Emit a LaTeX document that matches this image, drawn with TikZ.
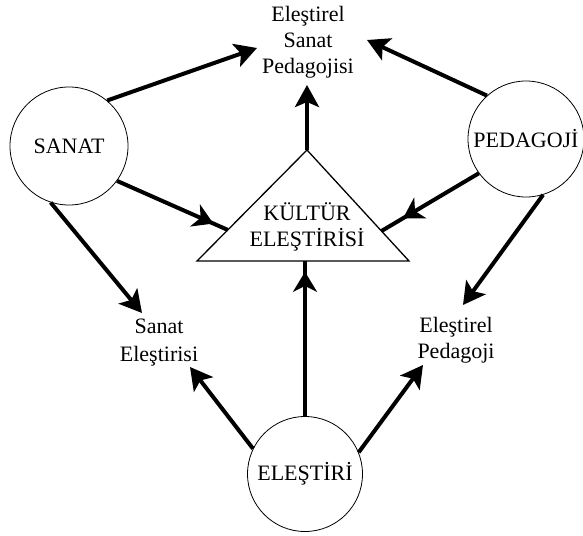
\documentclass[tikz,border=0pt]{standalone}
\usepackage{fontspec}
\setmainfont{Liberation Serif}
\usetikzlibrary{arrows.meta,calc,decorations.markings}

\tikzset{
  topic/.style={draw,circle,line width=.8pt,minimum size=#1,inner sep=0pt,font=\fontsize{22}{26}\selectfont},
  field/.style={align=center,inner sep=0pt,font=\fontsize{22}{26}\selectfont},
  link/.style={line width=4pt,-{Stealth[length=22pt,width=24pt,inset=5pt]}},
  midlink/.style={line width=4pt,postaction={decorate},
    decoration={markings,mark=at position #1 with {\arrow{Stealth[length=20pt,width=24pt,inset=6pt]}}}}
}

\begin{document}
\begin{tikzpicture}[x=1pt,y=-1pt]
\useasboundingbox (0,0) rectangle (583,535);
% the three fields
\node[topic=118] (sanat) at (69,146) {SANAT};
\node[topic=116] (pedagoji) at (526,139) {PEDAGOJİ};
\node[topic=115] (elestiri) at (305,474) {ELEŞTİRİ};
% triangle in the middle
\coordinate (apex) at (307,150);
\coordinate (bl) at (197,261);
\coordinate (br) at (409,261);
\draw[line width=1.3pt] (apex) -- (bl) -- (br) -- cycle;
\node[field] (kultur) at (307,227) {KÜLTÜR\\ELEŞTİRİSİ};
% outcomes
\node[field] (esp) at (308,42) {Eleştirel\\Sanat\\Pedagojisi};
\node[field] (se) at (159,343) {Sanat\\[2pt]Eleştirisi};
\node[field] (ep) at (456,340) {Eleştirel\\Pedagoji};
% arrows
\draw[link] (sanat.50) -- ([shift={(-51,6)}]esp.center);
\draw[link] (pedagoji.132) -- ([shift={(59,-2)}]esp.center);
\draw[link] (apex) -- ([shift={(-1,43)}]esp.center);
\draw[midlink=.87] (sanat.-36) -- ($(bl)!.28!(apex)$);
\draw[midlink=.78] (pedagoji.216) -- ($(br)!.27!(apex)$);
\draw[midlink=.93] (elestiri.north) -- (elestiri.north |- bl);
\draw[link] (sanat.252) -- ([shift={(-17,-30)}]se.center);
\draw[link] (elestiri.154) -- ([shift={(31,24)}]se.center);
\draw[link] (pedagoji.287) -- ([shift={(7,-35)}]ep.center);
\draw[link] (elestiri.22) -- ([shift={(-33,25)}]ep.center);
\end{tikzpicture}
\end{document}
